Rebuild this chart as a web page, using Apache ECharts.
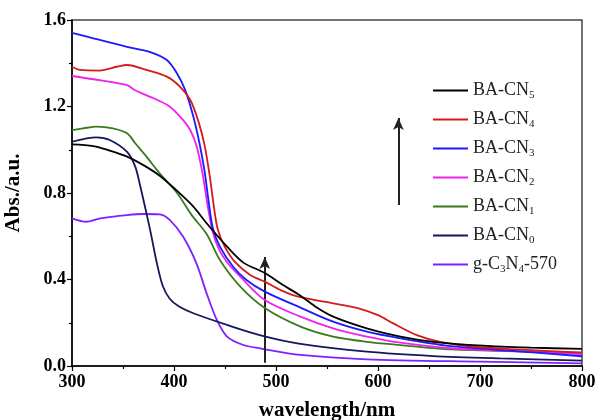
<!DOCTYPE html>
<html>
<head>
<meta charset="utf-8">
<script src="https://cdn.jsdelivr.net/npm/echarts@6/dist/echarts.min.js"></script>
<style>
  html, body { margin: 0; padding: 0; background: #fff; }
  #chart { width: 596px; height: 420px; }
</style>
</head>
<body>
<div id="chart"></div>
<script>
// 图例名称
const names = ["BA-CN5", "BA-CN4", "BA-CN3", "BA-CN2", "BA-CN1", "BA-CN0", "g-C3N4-570"];
const colorList = ["#000000", "#d41a1a", "#1a1aff", "#ee22ee", "#3a7a1e", "#16165a", "#7b22ff"];

// 吸收光谱数据 [wavelength, abs]
const baCn5 = [[300,1.025],[321,1.017],[337,0.996],[354,0.968],[370,0.929],[386,0.880],[402,0.814],[419,0.737],[432,0.66],[452,0.552],[468,0.478],[489,0.43],[505,0.38],[524,0.325],[540,0.27],[556,0.228],[589,0.174],[622,0.136],[654,0.112],[703,0.094],[750,0.085],[800,0.079]];
const baCn4 = [[300,1.384],[308,1.369],[327,1.366],[345,1.385],[354,1.392],[373,1.369],[393,1.338],[406,1.291],[416,1.230],[424,1.13],[430,1.02],[435,0.88],[439,0.74],[443,0.63],[450,0.55],[460,0.48],[475,0.42],[489,0.39],[505,0.35],[524,0.318],[556,0.29],[580,0.268],[600,0.235],[615,0.197],[638,0.143],[661,0.112],[694,0.089],[736,0.077],[800,0.062]];
const baCn3 = [[300,1.541],[321,1.515],[354,1.476],[376,1.453],[393,1.415],[403,1.353],[411,1.276],[419,1.153],[425,1.03],[430,0.9],[434,0.76],[438,0.64],[445,0.552],[458,0.459],[471,0.398],[489,0.344],[524,0.27],[556,0.205],[589,0.159],[622,0.128],[671,0.092],[720,0.074],[800,0.045]];
const baCn2 = [[300,1.341],[321,1.326],[354,1.299],[360,1.28],[365,1.268],[380,1.238],[396,1.199],[409,1.137],[416,1.09],[422,1.02],[428,0.89],[433,0.74],[438,0.62],[444,0.54],[452,0.48],[465,0.413],[489,0.305],[524,0.228],[556,0.174],[589,0.136],[622,0.108],[671,0.082],[720,0.071],[800,0.055]];
const baCn1 = [[300,1.091],[311,1.099],[324,1.107],[340,1.099],[354,1.076],[362,1.03],[373,0.968],[386,0.891],[403,0.80],[417,0.70],[432,0.61],[445,0.49],[465,0.367],[489,0.268],[524,0.182],[556,0.136],[589,0.112],[622,0.097],[671,0.077],[800,0.062]];
const baCn0 = [[300,1.037],[324,1.057],[337,1.045],[354,0.99],[362,0.922],[367,0.83],[373,0.706],[377,0.62],[383,0.48],[389,0.37],[396,0.31],[405,0.275],[419,0.244],[452,0.19],[484,0.143],[524,0.102],[589,0.066],[654,0.046],[720,0.035],[800,0.025]];
const gcn570 = [[300,0.683],[314,0.667],[328,0.683],[354,0.698],[370,0.703],[386,0.701],[396,0.675],[409,0.598],[422,0.475],[432,0.336],[442,0.213],[452,0.136],[468,0.097],[484,0.082],[524,0.051],[589,0.031],[700,0.02],[800,0.012]];
const seriesData = [baCn5, baCn4, baCn3, baCn2, baCn1, baCn0, gcn570];

// 箭头 [x, y起点, y终点]
const arrows = [[489, 0.015, 0.504], [620, 0.745, 1.147]];

const font = "'Liberation Serif', 'Times New Roman', serif";
const chart = echarts.init(document.getElementById("chart"));

function legendLabel(name) {
  if (name === "g-C3N4-570") {
    return "{m|g-C}{s|3}{m|N}{s|4}{m|-570}";
  }
  return "{m|BA-CN}{s|" + name.slice(-1) + "}";
}

const series = names.map((name, index) => ({
  name: name,
  type: "line",
  data: seriesData[index],
  symbol: "none",
  smooth: 0.3,
  lineStyle: { width: 1.8, color: colorList[index] },
  itemStyle: { color: colorList[index] },
  z: 10 - index
}));

// 箭头用 markLine 画
series[0].markLine = {
  silent: true,
  symbol: ["none", "arrow"],
  symbolSize: [8, 12],
  label: { show: false },
  lineStyle: { color: "#222", width: 2, type: "solid" },
  data: arrows.map(a => [{ coord: [a[0], a[1]] }, { coord: [a[0], a[2]] }])
};

const option = {
  animation: false,
  backgroundColor: "#fff",
  grid: {
    left: 72,
    right: 14,
    top: 20,
    bottom: 54,
    outerBoundsMode: "none",
    containLabel: false,
    show: true,
    borderColor: "#444",
    borderWidth: 1.5
  },
  legend: {
    orient: "vertical",
    left: 428,
    top: 75,
    icon: "rect",
    itemWidth: 35,
    itemHeight: 2,
    itemGap: 8,
    data: names,
    formatter: legendLabel,
    textStyle: {
      fontFamily: font,
      rich: {
        m: { fontFamily: font, fontSize: 18, lineHeight: 20, color: "#222" },
        s: { fontFamily: font, fontSize: 11, lineHeight: 10, padding: [10, 0, 0, 0], color: "#222" }
      }
    }
  },
  xAxis: {
    type: "value",
    min: 300,
    max: 800,
    interval: 100,
    name: "wavelength/nm",
    nameLocation: "middle",
    nameGap: 34,
    nameTextStyle: { fontFamily: font, fontSize: 21, fontWeight: "bold", color: "#000" },
    axisLine: { lineStyle: { color: "#000", width: 1.5 } },
    axisTick: { length: 5, lineStyle: { color: "#000", width: 1.2 } },
    minorTick: { show: true, splitNumber: 2, length: 3, lineStyle: { color: "#000", width: 1.2 } },
    splitLine: { show: false },
    axisLabel: { margin: 7, fontFamily: font, fontSize: 18, fontWeight: "bold", color: "#000" }
  },
  yAxis: {
    type: "value",
    min: 0,
    max: 1.6,
    interval: 0.4,
    name: "Abs./a.u.",
    nameLocation: "middle",
    nameGap: 48,
    nameTextStyle: { fontFamily: font, fontSize: 21, fontWeight: "bold", color: "#000" },
    axisLine: { show: true, lineStyle: { color: "#000", width: 1.5 } },
    axisTick: { show: true, length: 5, lineStyle: { color: "#000", width: 1.2 } },
    minorTick: { show: true, splitNumber: 2, length: 3, lineStyle: { color: "#000", width: 1.2 } },
    splitLine: { show: false },
    axisLabel: {
      margin: 6,
      fontFamily: font,
      fontSize: 18,
      fontWeight: "bold",
      color: "#000",
      formatter: v => v.toFixed(1)
    }
  },
  series
};

chart.setOption(option);
</script>
</body>
</html>
